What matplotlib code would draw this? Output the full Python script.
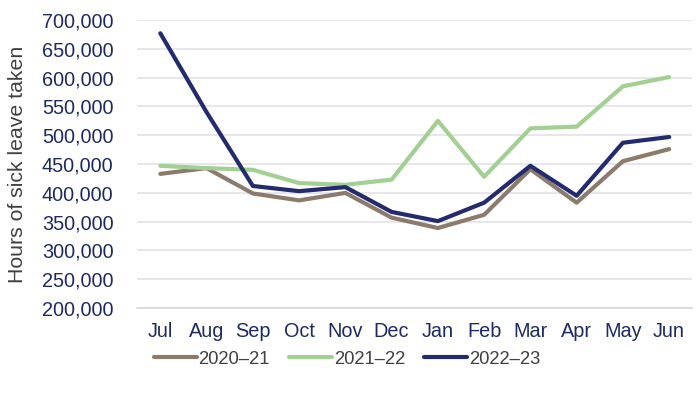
import matplotlib
matplotlib.use("Agg")
import matplotlib.pyplot as plt
from matplotlib.ticker import FuncFormatter

months = ["Jul", "Aug", "Sep", "Oct", "Nov", "Dec", "Jan", "Feb", "Mar", "Apr", "May", "Jun"]
s2020_21 = [433000, 443000, 399000, 387000, 400000, 357000, 339000, 362000, 441000, 383000, 455000, 476000]
s2021_22 = [447000, 443000, 440000, 417000, 414000, 423000, 525000, 428000, 512000, 515000, 585000, 601000]
s2022_23 = [677000, 540000, 412000, 403000, 410000, 367000, 351000, 383000, 447000, 395000, 487000, 497000]
series_names = ["2020\u201321", "2021\u201322", "2022\u201323"]
colors = ["#8C7B6C", "#A2CF92", "#232B6E"]

plt.rcParams['font.family'] = ['Liberation Sans', 'DejaVu Sans']

fig = plt.figure(figsize=(7, 3.93), dpi=100)
ax = fig.add_axes([0.196, 0.216, 0.793, 0.733])

x = list(range(len(months)))
for vals, name, c in zip([s2020_21, s2021_22, s2022_23], series_names, colors):
    ax.plot(x, vals, color=c, lw=3.0, label=name, solid_capstyle='round', solid_joinstyle='round')

ax.set_xlim(-0.5, 11.5)
ax.set_ylim(200000, 700000)
ax.set_yticks(range(200000, 700001, 50000))
ax.yaxis.set_major_formatter(FuncFormatter(lambda v, p: f"{int(v):,}"))
ax.set_xticks(x)
ax.set_xticklabels(months)
ax.grid(axis='y', color='#E3E3E8', lw=1.2)
ax.set_axisbelow(True)
for s in ['top', 'right', 'left']:
    ax.spines[s].set_visible(False)
ax.spines['bottom'].set_color('#D9D9D9')
ax.spines['bottom'].set_linewidth(1.2)
ax.tick_params(axis='both', length=0, labelsize=14.3, labelcolor='#1F2A60')
ax.tick_params(axis='x', pad=10)
ax.tick_params(axis='y', pad=17)
ax.set_ylabel("Hours of sick leave taken", fontsize=15.3, color='#404040')
ax.yaxis.set_label_coords(-0.198, 0.5)

leg = fig.legend(loc='center left', bbox_to_anchor=(154 / 700, 1 - 359 / 393), ncol=3, frameon=False,
                 fontsize=13.2, handlelength=2.35, handletextpad=0.08, columnspacing=1.05,
                 labelcolor='#404040', borderpad=0, borderaxespad=0,
                 handles=ax.get_lines())

fig.savefig("out.png", dpi=100)
